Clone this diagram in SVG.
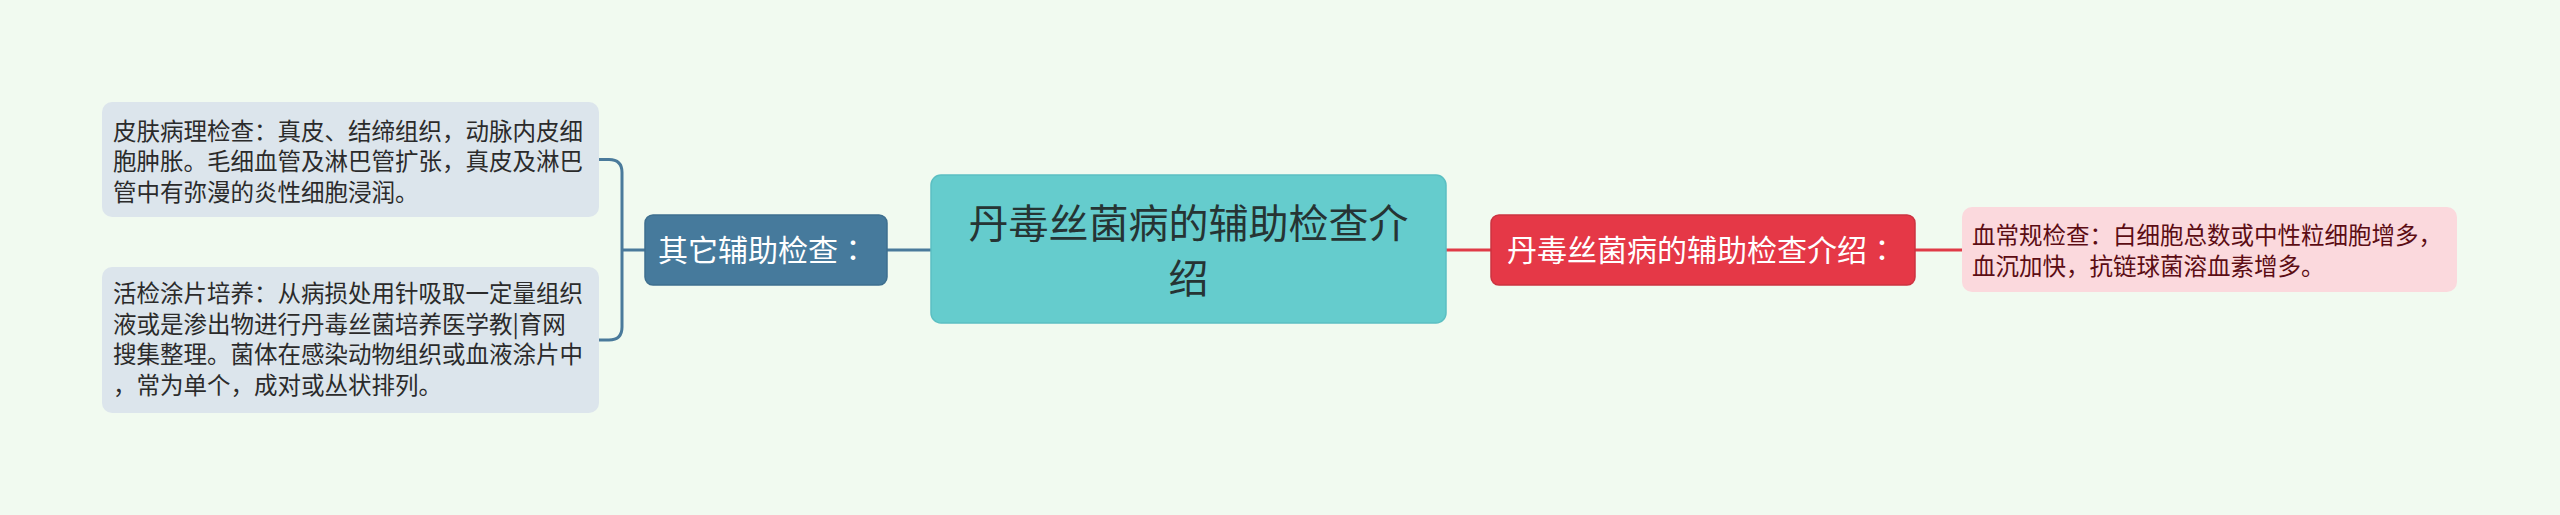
<svg xmlns="http://www.w3.org/2000/svg" width="2560" height="515" viewBox="0 0 2560 515">
<style>
text{font-family:"Noto Sans CJK SC","Noto Sans",sans-serif;}
.leaf{fill:#dce5ec;}
.lt{font-size:23.5px;fill:#2b2b2b;}
.pt{font-size:23.5px;fill:#5c0d14;}
.hd{font-size:30px;fill:#ffffff;}
.col{font-family:"Noto Sans CJK TC","Noto Sans CJK SC",sans-serif;}
.blue{stroke:#4a7a9b;stroke-width:3;fill:none;}
.red{stroke:#e03a47;stroke-width:3;fill:none;}
</style>
<rect width="2560" height="515" fill="#f1faf0"/>
<g id="connectors">
<path class="blue" d="M886 250 L931 250"/>
<path class="blue" d="M599 159.5 L609 159.5 Q622 159.5 622 172.5 L622 327 Q622 340 609 340 L599 340 M622 250 L645 250"/>
<path class="red" d="M1446 250 L1491 250 M1915 250 L1962 250"/>
</g>
<g id="center">
<rect x="931" y="175" width="515" height="148" rx="10" fill="#65cccd" stroke="#5bbfc2" stroke-width="1.5"/>
<text x="1188.5" y="238" font-size="40" fill="#263434" text-anchor="middle">丹毒丝菌病的辅助检查介</text>
<text x="1188.5" y="293" font-size="40" fill="#263434" text-anchor="middle">绍</text>
</g>
<g id="other">
<rect x="645" y="215" width="242" height="70" rx="8" fill="#467a9c" stroke="#3e6f8f" stroke-width="1.5"/>
<text class="hd" x="658" y="261">其它辅助检查<tspan class="col">：</tspan></text>
</g>
<g id="leaf1">
<rect class="leaf" x="102" y="102" width="497" height="115" rx="10"/>
<text class="lt" x="113" y="140">皮肤病理检查：真皮、结缔组织，动脉内皮细</text>
<text class="lt" x="113" y="170.3">胞肿胀。毛细血管及淋巴管扩张，真皮及淋巴</text>
<text class="lt" x="113" y="200.6">管中有弥漫的炎性细胞浸润。</text>
</g>
<g id="leaf2">
<rect class="leaf" x="102" y="267" width="497" height="146" rx="10"/>
<text class="lt" x="113" y="302">活检涂片培养：从病损处用针吸取一定量组织</text>
<text class="lt" x="113" y="332.6">液或是渗出物进行丹毒丝菌培养医学教|育网</text>
<text class="lt" x="113" y="363.2">搜集整理。菌体在感染动物组织或血液涂片中</text>
<text class="lt" x="113" y="393.8">，常为单个，成对或丛状排列。</text>
</g>
<g id="intro">
<rect x="1491" y="215" width="424" height="70" rx="8" fill="#e53847" stroke="#cc3340" stroke-width="1.5"/>
<text class="hd" x="1507" y="261">丹毒丝菌病的辅助检查介绍<tspan class="col">：</tspan></text>
</g>
<g id="blood">
<rect x="1962" y="207" width="495" height="85" rx="10" fill="#fbd9dd"/>
<text class="pt" x="1972" y="243.5">血常规检查：白细胞总数或中性粒细胞增多，</text>
<text class="pt" x="1972" y="274.5">血沉加快，抗链球菌溶血素增多。</text>
</g>
</svg>
